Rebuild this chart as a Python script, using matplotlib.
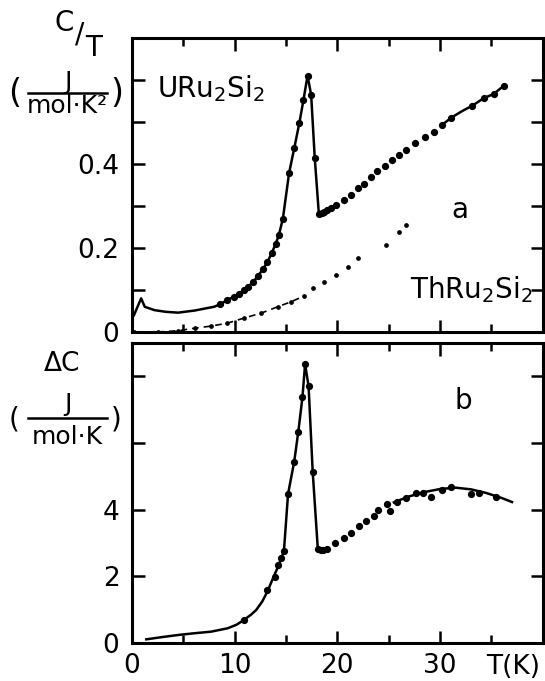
import numpy as np
import matplotlib
matplotlib.use('Agg')
import matplotlib.pyplot as plt
from matplotlib.lines import Line2D
from matplotlib.ticker import FixedLocator, FixedFormatter, MultipleLocator

plt.rcParams['font.family'] = 'DejaVu Sans'
plt.rcParams['mathtext.fontset'] = 'dejavusans'

# --- panel a: C/T of URu2Si2 (J/mol K^2) ---
u_line_T = [0.2, 0.9, 1.25, 2.2, 3.3, 4.5, 6.1, 8.0, 8.6, 9.3, 9.9, 10.4, 10.9, 11.3, 11.8,
            12.3, 12.8, 13.2, 13.6, 14.0, 14.3, 14.7, 15.3, 15.8, 16.3, 16.7, 17.1, 17.45,
            17.8, 18.2, 18.5, 18.7, 19.0, 19.4]
u_line_C = [0.040, 0.080, 0.060, 0.052, 0.048, 0.046, 0.051, 0.060, 0.066, 0.076, 0.084, 0.091,
            0.099, 0.107, 0.119, 0.134, 0.151, 0.167, 0.187, 0.21, 0.23, 0.27, 0.378, 0.437,
            0.497, 0.552, 0.61, 0.564, 0.414, 0.281, 0.283, 0.286, 0.29, 0.294]
u_hi_T = [30.2, 31.1, 32.1, 33.1, 34.3, 35.2, 36.2]
u_hi_C = [0.493, 0.51, 0.525, 0.538, 0.557, 0.566, 0.586]

u_pts_T = [8.6, 9.3, 9.9, 10.4, 10.9, 11.3, 11.8, 12.3, 12.8, 13.2, 13.6, 14.0, 14.3, 14.7,
           15.3, 15.8, 16.3, 16.7, 17.1, 17.45, 17.8, 18.2, 18.5, 18.7, 19.0, 19.4, 19.9,
           20.6, 21.3, 22.0, 22.6, 23.3, 23.9, 24.6, 25.3, 26.0, 26.7, 27.6, 28.5, 29.4,
           30.2, 31.1, 33.1, 34.3, 35.2, 36.2]
u_pts_C = [0.066, 0.076, 0.084, 0.091, 0.099, 0.107, 0.119, 0.134, 0.151, 0.167, 0.187, 0.21,
           0.23, 0.27, 0.378, 0.437, 0.497, 0.552, 0.61, 0.564, 0.414, 0.281, 0.283, 0.286,
           0.29, 0.294, 0.302, 0.314, 0.326, 0.342, 0.351, 0.368, 0.382, 0.394, 0.41, 0.421,
           0.433, 0.449, 0.463, 0.476, 0.493, 0.51, 0.538, 0.557, 0.566, 0.586]

# ThRu2Si2
th_T = [0.2, 2.5, 4.5, 6.1, 7.7, 9.3, 10.9, 12.6, 14.2, 15.5, 16.8, 17.6, 18.7, 19.9,
        21.0, 22.0, 24.7, 26.0, 26.7]
th_C = [0.0, 0.0, 0.003, 0.009, 0.014, 0.021, 0.033, 0.045, 0.060, 0.072, 0.086, 0.104,
        0.12, 0.136, 0.155, 0.175, 0.207, 0.239, 0.255]

# --- panel b: Delta C (J/mol K) ---
d_line_T = [1.4, 3.0, 4.5, 6.0, 7.7, 9.3, 10.2, 10.9, 11.6, 12.1, 12.7, 13.2, 13.8, 14.3,
            14.8, 15.2, 15.8, 16.2, 16.6, 16.86, 17.2, 17.6, 18.1, 18.6, 19.0]
d_line_C = [0.11, 0.18, 0.24, 0.29, 0.34, 0.44, 0.55, 0.69, 0.85, 0.99, 1.25, 1.55, 1.99,
            2.34, 2.76, 4.47, 5.44, 6.34, 7.37, 8.37, 7.7, 5.14, 2.81, 2.79, 2.82]
d_hi_T = [25.5, 27.0, 28.5, 30.0, 31.5, 33.0, 34.5, 36.0, 37.0]
d_hi_C = [4.22, 4.40, 4.53, 4.62, 4.66, 4.61, 4.50, 4.35, 4.23]

d_pts_T = [10.9, 13.2, 13.9, 14.2, 14.5, 14.8, 15.2, 15.8, 16.2, 16.6, 16.86, 17.2, 17.6,
           18.1, 18.4, 18.6, 19.0, 19.8, 20.6, 21.3, 22.1, 22.8, 23.6, 24.0, 24.8, 25.1,
           25.8, 26.7, 27.7, 28.3, 29.1, 30.2, 31.1, 33.0, 33.8, 35.4]
d_pts_C = [0.69, 1.59, 1.99, 2.34, 2.55, 2.76, 4.47, 5.44, 6.34, 7.37, 8.37, 7.7, 5.14,
           2.81, 2.78, 2.79, 2.82, 3.01, 3.16, 3.29, 3.51, 3.67, 3.82, 3.99, 4.17, 3.96,
           4.24, 4.34, 4.5, 4.5, 4.38, 4.59, 4.68, 4.47, 4.5, 4.38]

fig = plt.figure(figsize=(5.45, 6.81), dpi=100)
ax1 = fig.add_axes([0.242, 0.5125, 0.754, 0.432])
ax2 = fig.add_axes([0.242, 0.0558, 0.754, 0.4405])

lw = 1.8
ax1.plot(u_line_T, u_line_C, color='black', lw=lw)
ax1.plot(u_hi_T, u_hi_C, color='black', lw=lw)
ax1.plot(u_pts_T, u_pts_C, 'o', color='black', ms=4.2)
ax1.plot(th_T[:11], th_C[:11], color='black', lw=1.2, linestyle=(0, (4, 3)))
ax1.plot(th_T, th_C, 'o', color='black', ms=2.4)

ax2.plot(d_line_T, d_line_C, color='black', lw=lw)
ax2.plot(d_hi_T, d_hi_C, color='black', lw=lw)
ax2.plot(d_pts_T, d_pts_C, 'o', color='black', ms=4.2)

for ax in (ax1, ax2):
    ax.set_xlim(0, 40)
    for s in ax.spines.values():
        s.set_linewidth(2.2)
    ax.xaxis.set_major_locator(MultipleLocator(10))
    ax.xaxis.set_minor_locator(MultipleLocator(5))
    ax.tick_params(which='both', direction='in', top=True, right=True, width=1.8,
                   labelsize=19, pad=9)
    ax.tick_params(which='major', length=9)
    ax.tick_params(which='minor', length=6)

ax1.set_ylim(0, 0.7)
ax1.yaxis.set_major_locator(FixedLocator([0, 0.1, 0.2, 0.3, 0.4, 0.5, 0.6]))
ax1.yaxis.set_major_formatter(FixedFormatter(['0', '', '0.2', '', '0.4', '', '']))
ax1.set_xticklabels([])

ax2.set_ylim(0, 9)
ax2.yaxis.set_major_locator(FixedLocator([0, 2, 4, 6, 8]))
ax2.yaxis.set_major_formatter(FixedFormatter(['0', '2', '4', '', '']))
ax2.set_xticks([0, 10, 20, 30])
ax2.set_xticklabels(['0', '10', '20', '30'])
ax2.tick_params(axis='x', pad=7)


def unit_label(y_num, y_bar, y_den, y_par, den, par_size):
    fig.text(0.125, y_num, 'J', fontsize=18, ha='center', va='center')
    fig.add_artist(Line2D([0.052, 0.196], [y_bar, y_bar], transform=fig.transFigure,
                          color='black', lw=1.8))
    fig.text(0.124, y_den, den, fontsize=18, ha='center', va='center')
    fig.text(0.026, y_par, '(', fontsize=par_size, ha='center', va='center')
    fig.text(0.214, y_par, ')', fontsize=par_size, ha='center', va='center')


# axis titles
fig.text(0.117, 0.966, 'C', fontsize=20, ha='center', va='center')
fig.text(0.147, 0.950, '/', fontsize=20, ha='center', va='center')
fig.text(0.172, 0.930, 'T', fontsize=20, ha='center', va='center')
unit_label(0.880, 0.864, 0.845, 0.862, 'mol·K²', 24)

fig.text(0.114, 0.466, r'ΔC', fontsize=19, ha='center', va='center')
unit_label(0.407, 0.386, 0.359, 0.384, 'mol·K', 20)

ax1.text(2.4, 0.58, r'URu$_2$Si$_2$', fontsize=20, va='center')
ax1.text(31.9, 0.29, 'a', fontsize=20, ha='center', va='center')
ax1.text(39.0, 0.10, r'ThRu$_2$Si$_2$', fontsize=20, ha='right', va='center')
ax2.text(32.3, 7.25, 'b', fontsize=20, ha='center', va='center')
ax2.text(39.7, -0.73, 'T(K)', fontsize=19, ha='right', va='center')

fig.savefig('out.png', dpi=100)
